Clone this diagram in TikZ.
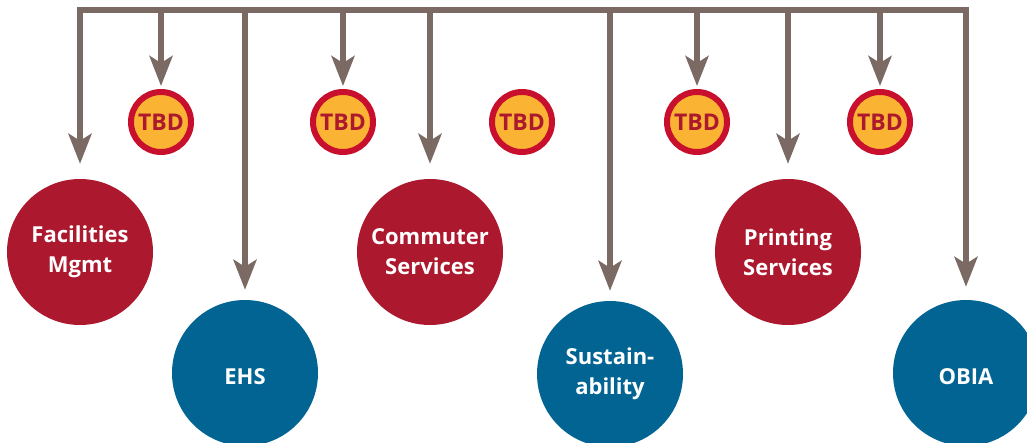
\documentclass[tikz,border=0pt]{standalone}
\usepackage{fontspec}
\setmainfont{Open Sans}
\usetikzlibrary{arrows.meta}
\definecolor{unitred}{HTML}{AC182D}
\definecolor{unitblue}{HTML}{026492}
\definecolor{linkgray}{HTML}{7B6A64}
\definecolor{tbdfill}{HTML}{FBB334}
\definecolor{tbdring}{HTML}{C8102E}
\begin{document}
\begin{tikzpicture}[x=1pt, y=-1pt,
		unit/.style={circle, minimum size=146pt, inner sep=0pt, text=white, align=center,
			font=\bfseries\fontsize{22}{30}\selectfont,
			execute at begin node={\rule{0pt}{23pt}}},
		red unit/.style={unit, fill=unitred},
		blue unit/.style={unit, fill=unitblue},
		tbd/.style={circle, minimum size=60pt, inner sep=0pt, fill=tbdfill, draw=tbdring,
			line width=6pt, text=unitred, font=\bfseries\fontsize{23}{24}\selectfont},
		link/.style={draw=linkgray, line width=5.5pt, miter limit=10,
			-{Stealth[length=30pt, width=23pt, inset=7pt]}}]
	\useasboundingbox (0,0) rectangle (1027,442);
	% units
	\node[red unit] (fm) at (80,252) {Facilities\\Mgmt};
	\node[blue unit] (ehs) at (245,373) {EHS};
	\node[red unit] (cs) at (430,252) {Commuter\\Services};
	\node[blue unit] (sus) at (610,374) {Sustain-\\ability};
	\node[red unit] (ps) at (788,252) {Printing\\Services};
	\node[blue unit] (obia) at (966,373) {OBIA};
	% open positions
	\node[tbd] (tbda) at (161,122) {TBD};
	\node[tbd] (tbdb) at (343,122) {TBD};
	\node[tbd] (tbdc) at (522,122) {TBD};
	\node[tbd] (tbdd) at (697,122) {TBD};
	\node[tbd] (tbde) at (880,122) {TBD};
	% top bar and its arrows
	\coordinate (bar) at (0,10);
	\draw[link, {Stealth[length=30pt, width=23pt, inset=7pt]}-{Stealth[length=30pt, width=23pt, inset=7pt]},
		shorten <=15pt, shorten >=13pt] (fm.north) |- (obia |- bar) -- (obia.north);
	\draw[link, shorten >=10pt] (ehs |- bar) -- (ehs.north);
	\draw[link, shorten >=15pt] (cs |- bar) -- (cs.north);
	\draw[link, shorten >=10pt] (sus |- bar) -- (sus.north);
	\draw[link, shorten >=15pt] (ps |- bar) -- (ps.north);
	\foreach \t in {tbda,tbdb,tbdd,tbde}
		\draw[link, shorten >=3pt] (\t |- bar) -- (\t.north);
\end{tikzpicture}
\end{document}
